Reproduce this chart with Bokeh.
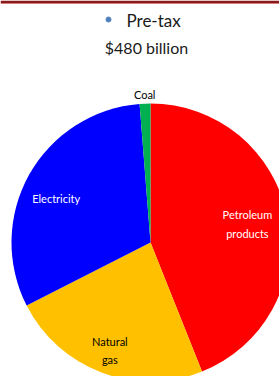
import numpy as np
from bokeh.plotting import figure
from bokeh.models import Range1d, ColumnDataSource
from bokeh.core.properties import value
from bokeh.embed import file_html
from bokeh.resources import INLINE

# ---- data ----
categories = ["Petroleum\nproducts", "Natural\ngas", "Electricity", "Coal"]
values_bn = [211, 113, 150, 6]          # $ billion, pre-tax
colors = ["#FF0000", "#FFC000", "#0000FF", "#00B050"]
label_colors = ["white", "black", "white", "black"]
legend_label = "Pre-tax"
total_label = "$480 billion"

# ---- layout (pixel-like coordinates, y measured up from bottom) ----
W, H = 279, 376
cx, cy, r = 150, 134, 139
label_frac = [0.71, 0.83, 0.75, 1.065]
label_nudge_deg = [0, 0, 4, 0]

p = figure(width=W, height=H, output_backend="svg", toolbar_location=None,
           x_range=Range1d(0, W), y_range=Range1d(0, H),
           min_border=0)
p.axis.visible = False
p.grid.visible = False
p.outline_line_color = None
p.background_fill_color = "white"

# thin dark-red rule at the very top
p.quad(left=[0], right=[W], top=[H], bottom=[H - 2.5], fill_color="#8B1A1A",
       line_color=None)
p.quad(left=[0], right=[W], top=[H - 2.5], bottom=[H - 3.5], fill_color="#D08080",
       line_color=None)

vals = np.array(values_bn, dtype=float)
frac = vals / vals.sum()
cum = np.concatenate([[0], np.cumsum(frac)])
# clockwise from 12 o'clock
start = np.pi / 2 - cum[1:] * 2 * np.pi
end = np.pi / 2 - cum[:-1] * 2 * np.pi
mid = (start + end) / 2 + np.radians(label_nudge_deg)

src = ColumnDataSource(dict(start=start, end=end, color=colors,
                            x=[cx] * 4, y=[cy] * 4))
p.wedge(x="x", y="y", radius=r, start_angle="start", end_angle="end",
        fill_color="color", line_color=None, source=src)

lx = cx + r * np.array(label_frac) * np.cos(mid)
ly = cy + r * np.array(label_frac) * np.sin(mid)
lsrc = ColumnDataSource(dict(x=lx, y=ly, t=categories, c=label_colors))
p.text(x="x", y="y", text="t", text_color="c", source=lsrc,
       text_font=value("Lato"), text_font_size="11px",
       text_align="center", text_baseline="middle", text_line_height=1.45)

# legend marker + title
p.scatter(x=[108], y=[H - 19], size=5, color="#4F81BD", marker="circle")
p.text(x=[126], y=[H - 20], text=[legend_label], text_font=value("Lato"),
       text_font_size="17px", text_align="left", text_baseline="middle",
       text_color="#1a1a1a")
p.text(x=[146], y=[H - 47], text=[total_label], text_font=value("Lato"),
       text_font_size="16px", text_align="center", text_baseline="middle",
       text_color="#1a1a1a")

open("out.html", "w").write(file_html(p, INLINE))
